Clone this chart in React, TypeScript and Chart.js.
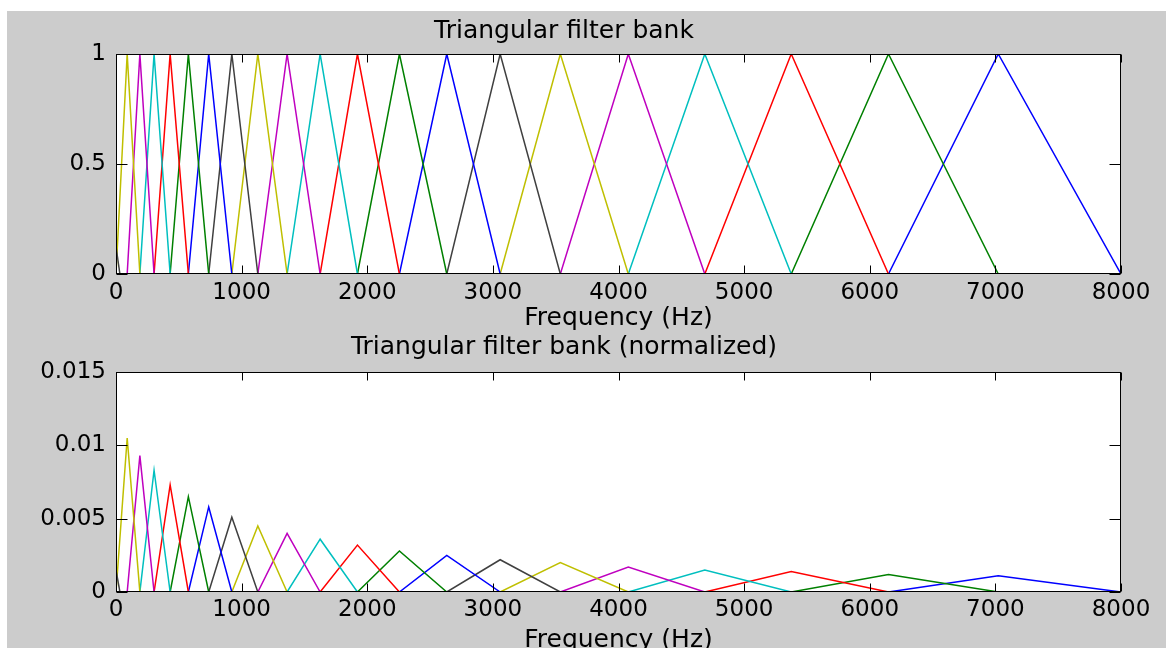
import React, { useEffect, useRef } from "react";
import { Chart, registerables } from "chart.js";

Chart.register(...registerables);

// Filter band edges (Hz): filter k spans edges[k-1]..edges[k+1], peak at edges[k]
const edgesHz = [0, 89, 190, 303, 431, 576, 738, 922, 1129, 1362, 1625, 1922, 2256, 2633, 3058, 3537, 4078, 4687, 5375, 6149, 7023, 8000];
// Peak heights, top plot
const peaksRaw = [1, 1, 1, 1, 1, 1, 1, 1, 1, 1, 1, 1, 1, 1, 1, 1, 1, 1, 1, 1];
// Peak heights, normalized plot
const peaksNorm = [0.0105, 0.0093, 0.0083, 0.0073, 0.0065, 0.0058, 0.0051, 0.0045, 0.0040, 0.0036, 0.0032, 0.0028, 0.0025, 0.0022, 0.0020, 0.0017, 0.0015, 0.0014, 0.0012, 0.0011];
// Colour name of each filter (MATLAB letters)
const filterColors = ["y", "m", "c", "r", "g", "b", "k", "y", "m", "c", "r", "g", "b", "k", "y", "m", "c", "r", "g", "b"];
// Tiny black edge filter at 0 Hz
const edgeFilterHz = [0, 31];
const edgeFilterRaw = [0.125, 0];
const edgeFilterNorm = [0.0015, 0];

const xTicksStep = 1000;
const yTicksTop = { min: 0, max: 1, step: 0.5 };
const yTicksBottom = { min: 0, max: 0.015, step: 0.005 };

const palette: Record<string, string> = {
  b: "#0000ff",
  g: "#008000",
  r: "#ff0000",
  c: "#00bfbf",
  m: "#bf00bf",
  y: "#bfbf00",
  k: "#404040",
};

const FONT = "'DejaVu Sans', 'Liberation Sans', sans-serif";

const boxPlugin = {
  id: "matlabBox",
  beforeDraw(chart: any) {
    const { ctx, chartArea: a } = chart;
    ctx.save();
    ctx.fillStyle = "#ffffff";
    ctx.fillRect(a.left, a.top, a.right - a.left, a.bottom - a.top);
    ctx.restore();
  },
  afterDraw(chart: any) {
    const { ctx, chartArea: a, scales } = chart;
    ctx.save();
    ctx.strokeStyle = "#000000";
    ctx.lineWidth = 1;
    ctx.beginPath();
    const L = Math.round(a.left) + 0.5;
    const R = Math.round(a.right) - 0.5;
    const T = Math.round(a.top) + 0.5;
    const B = Math.round(a.bottom) - 0.5;
    scales.x.ticks.forEach((t: any) => {
      const px = Math.round(scales.x.getPixelForValue(t.value)) + 0.5;
      ctx.moveTo(px, B);
      ctx.lineTo(px, B - 8);
      ctx.moveTo(px, T);
      ctx.lineTo(px, T + 8);
    });
    scales.y.ticks.forEach((t: any) => {
      const py = Math.round(scales.y.getPixelForValue(t.value)) + 0.5;
      ctx.moveTo(L, py);
      ctx.lineTo(L + 11, py);
      ctx.moveTo(R, py);
      ctx.lineTo(R - 11, py);
    });
    ctx.stroke();
    ctx.strokeRect(L, T, R - L, B - T);
    ctx.restore();
  },
};

function buildDatasets(peaks: number[], edgeVals: number[]) {
  const ds: any[] = [];
  ds.push({
    data: edgeFilterHz.map((x, i) => ({ x, y: edgeVals[i] })),
    borderColor: palette.k,
  });
  for (let k = 0; k < peaks.length; k++) {
    ds.push({
      data: [
        { x: edgesHz[k], y: 0 },
        { x: edgesHz[k + 1], y: peaks[k] },
        { x: edgesHz[k + 2], y: 0 },
      ],
      borderColor: palette[filterColors[k]],
    });
  }
  return ds.map((d) => ({
    ...d,
    showLine: true,
    fill: false,
    pointRadius: 0,
    borderWidth: 1.5,
    tension: 0,
  }));
}

function fmt(v: number) {
  return String(Math.round(v * 1e6) / 1e6);
}

function makeConfig(p: {
  title: string;
  titlePad: { top: number; bottom: number };
  datasets: any[];
  y: { min: number; max: number; step: number };
  xAxisHeight: number;
  xTickPad: number;
  xTitlePadBottom: number;
}): any {
  return {
    type: "scatter",
    data: { datasets: p.datasets },
    plugins: [boxPlugin],
    options: {
      animation: false,
      responsive: false,
      maintainAspectRatio: false,
      layout: { padding: { left: 0, right: 45, top: 0, bottom: 0 } },
      plugins: {
        legend: { display: false },
        tooltip: { enabled: false },
        title: {
          display: true,
          text: p.title,
          color: "#000",
          font: { family: FONT, size: 25, weight: "normal" },
          padding: p.titlePad,
        },
      },
      scales: {
        x: {
          type: "linear",
          min: 0,
          max: 8000,
          grid: { display: false, drawTicks: false },
          border: { display: false },
          ticks: {
            stepSize: xTicksStep,
            padding: p.xTickPad,
            color: "#000",
            font: { family: FONT, size: 23 },
            maxRotation: 0,
            autoSkip: false,
            callback: (v: number) => fmt(v),
          },
          title: {
            display: true,
            text: "Frequency (Hz)",
            color: "#000",
            font: { family: FONT, size: 25 },
            padding: { top: 0, bottom: p.xTitlePadBottom },
          },
          afterFit: (s: any) => {
            s.height = p.xAxisHeight;
          },
        },
        y: {
          type: "linear",
          min: p.y.min,
          max: p.y.max,
          grid: { display: false, drawTicks: false },
          border: { display: false },
          ticks: {
            stepSize: p.y.step,
            padding: 10,
            color: "#000",
            font: { family: FONT, size: 23 },
            callback: (v: number) => fmt(v),
          },
          afterFit: (s: any) => {
            s.width = 109;
          },
        },
      },
    },
  };
}

export default function App() {
  const topRef = useRef<HTMLCanvasElement | null>(null);
  const botRef = useRef<HTMLCanvasElement | null>(null);

  useEffect(() => {
    const c1 = new Chart(
      topRef.current as HTMLCanvasElement,
      makeConfig({
        title: "Triangular filter bank",
        titlePad: { top: 5, bottom: 8 },
        datasets: buildDatasets(peaksRaw, edgeFilterRaw),
        y: yTicksTop,
        xAxisHeight: 63,
        xTickPad: 5.5,
        xTitlePadBottom: 3.5,
      })
    );
    const c2 = new Chart(
      botRef.current as HTMLCanvasElement,
      makeConfig({
        title: "Triangular filter bank (normalized)",
        titlePad: { top: 7.5, bottom: 9.5 },
        datasets: buildDatasets(peaksNorm, edgeFilterNorm),
        y: yTicksBottom,
        xAxisHeight: 73,
        xTickPad: 4.5,
        xTitlePadBottom: 9.5,
      })
    );
    return () => {
      c1.destroy();
      c2.destroy();
    };
  }, []);

  return (
    <div
      style={{
        position: "fixed",
        left: 0,
        top: 0,
        width: 1166,
        height: 648,
        overflow: "hidden",
        background: "#ffffff",
      }}
    >
      <div
        style={{
          position: "absolute",
          left: 7,
          top: 11,
          width: 1159,
          height: 637,
          background: "#cccccc",
        }}
      />
      <canvas
        ref={topRef}
        width={1159}
        height={326}
        style={{ position: "absolute", left: 7, top: 11, width: 1159, height: 326 }}
      />
      <canvas
        ref={botRef}
        width={1159}
        height={340}
        style={{ position: "absolute", left: 7, top: 325, width: 1159, height: 340 }}
      />
    </div>
  );
}
